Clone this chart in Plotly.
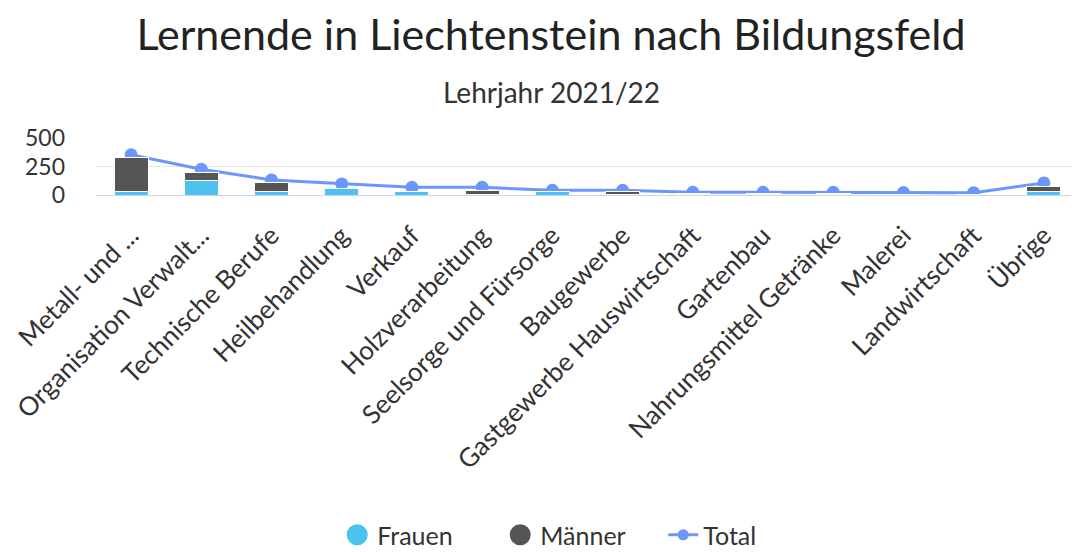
import plotly.graph_objects as go

# data
categories = [
    "Metall- und ...", "Organisation Verwalt...", "Technische Berufe", "Heilbehandlung",
    "Verkauf", "Holzverarbeitung", "Seelsorge und Fürsorge", "Baugewerbe",
    "Gastgewerbe Hauswirtschaft", "Gartenbau", "Nahrungsmittel Getränke", "Malerei",
    "Landwirtschaft", "Übrige",
]
frauen = [35, 124, 29, 59, 27, 3, 28, 2, 5, 3, 4, 2, 3, 29]
maenner = [294, 76, 80, 2, 4, 38, 4, 26, 4, 6, 6, 5, 4, 44]
total = [353, 226, 132, 97, 68, 68, 41, 41, 24, 24, 24, 22, 20, 106]
y_ticks = [0, 250, 500]

FONT = "Lato"
C_FRAUEN = "#4cc3ef"
C_MAENNER = "#555555"
C_TOTAL = "#6b96fc"

# page has an 8px body margin, so the figure is laid out 8px smaller
W, H = 1071, 544

fig = go.Figure()

# line first on y so the bars (on overlaying y2) sit on top of it
fig.add_trace(go.Scatter(
    x=categories, y=total, name="Total", mode="lines+markers",
    line=dict(color=C_TOTAL, width=3),
    marker=dict(size=13, color=C_TOTAL),
    showlegend=False, yaxis="y",
))
fig.add_trace(go.Bar(
    x=categories, y=frauen, name="Frauen", marker_color=C_FRAUEN,
    marker_line=dict(color="white", width=1), showlegend=False, yaxis="y2",
))
fig.add_trace(go.Bar(
    x=categories, y=maenner, name="Männer", marker_color=C_MAENNER,
    marker_line=dict(color="white", width=1), showlegend=False, yaxis="y2",
))

# legend entries (round symbols like the original)
fig.add_trace(go.Scatter(x=[None], y=[None], name="Frauen", mode="markers",
                         marker=dict(size=16, color=C_FRAUEN,
                                     line=dict(color=C_FRAUEN, width=5))))
fig.add_trace(go.Scatter(x=[None], y=[None], name="Männer", mode="markers",
                         marker=dict(size=16, color=C_MAENNER,
                                     line=dict(color=C_MAENNER, width=5))))
fig.add_trace(go.Scatter(x=[None], y=[None], name="Total", mode="lines+markers",
                         line=dict(color=C_TOTAL, width=3),
                         marker=dict(size=11, color=C_TOTAL)))

fig.update_layout(
    width=W, height=H,
    margin=dict(l=88, r=0, t=130, b=357, autoexpand=False),
    paper_bgcolor="white", plot_bgcolor="white",
    font=dict(family=FONT, color="#333333"),
    barmode="stack", bargap=0.515,
    title=dict(text="Lernende in Liechtenstein nach Bildungsfeld",
               x=543 / W, xanchor="center", y=1 - 27 / H, yanchor="middle",
               font=dict(size=43, color="#222222", family=FONT)),
    annotations=[dict(text="Lehrjahr 2021/22", xref="paper", yref="paper",
                      x=(551 - 96) / (1079 - 96), y=(195 - 92) / 57,
                      xanchor="center", yanchor="middle",
                      showarrow=False, font=dict(size=28, color="#333333"))],
    xaxis=dict(
        range=[-0.5, len(categories) - 0.5],
        tickangle=-45, tickfont=dict(size=26, color="#333333"),
        showline=True, linecolor="#ccd6eb", linewidth=1,
        showgrid=False, ticks="", automargin=False, ticklabelstandoff=14,
    ),
    yaxis=dict(
        range=[0, 500], tickvals=y_ticks, showgrid=True, gridcolor="#e6e6e6",
        zeroline=False, tickfont=dict(size=23, color="#333333"),
        ticklabelstandoff=30, automargin=False, fixedrange=True,
    ),
    yaxis2=dict(
        range=[0, 500], overlaying="y", visible=False, showgrid=False,
        fixedrange=True,
    ),
    legend=dict(orientation="h", x=578 / 1079, xanchor="center", xref="container",
                y=1 - 527 / H, yanchor="middle", yref="container",
                traceorder="normal", entrywidth=118,
                font=dict(size=25, color="#333333")),
)

fig.write_html("out.html")
